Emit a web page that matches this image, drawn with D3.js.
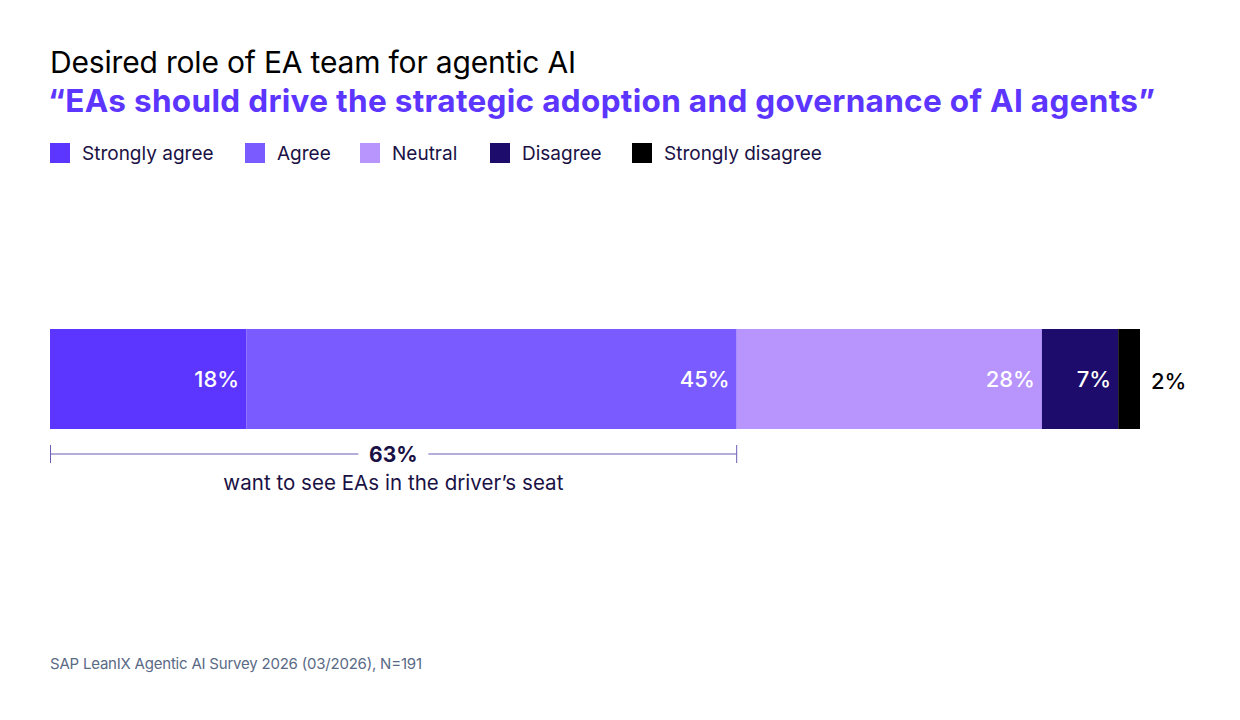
<!DOCTYPE html>
<html><head><meta charset="utf-8">
<script src="https://cdn.jsdelivr.net/npm/d3@7"></script>
<style>body{margin:0;background:#fff;}svg{display:block;font-family:Inter,"Noto Sans",sans-serif;}</style>
</head><body><svg id="c" width="1240" height="720"></svg>
<script>
const categories = ["Strongly agree","Agree","Neutral","Disagree","Strongly disagree"];
const values = [18,45,28,7,2];
const colors = ["#5c35ff","#7a5bff","#b894fd","#1d0c6b","#000000"];
const labelColors = ["#fff","#fff","#fff","#fff","#000"];
const bracketValue = 63;
const bracketText = "want to see EAs in the driver’s seat";

const svg = d3.select("#c");
const navy = "#1a1145";
svg.append("text").attr("x",50).attr("y",73).attr("font-size",30).attr("fill","#000")
  .attr("textLength",526).attr("lengthAdjust","spacing")
  .text("Desired role of EA team for agentic AI");
svg.append("text").attr("x",48).attr("y",112).attr("font-size",31.5).attr("font-weight",700).attr("fill","#5c35ff")
  .attr("textLength",1107).attr("lengthAdjust","spacing")
  .text("“EAs should drive the strategic adoption and governance of AI agents”");

const legX = [50,245,360,490,632];
const lg = svg.append("g");
categories.forEach((c,i)=>{
  lg.append("rect").attr("x",legX[i]).attr("y",143).attr("width",20).attr("height",20).attr("fill",colors[i]);
  lg.append("text").attr("x",legX[i]+32).attr("y",160).attr("font-size",19).attr("fill",navy).text(c);
});

const x = d3.scaleLinear().domain([0,d3.sum(values)]).range([50,1140]);
const starts = d3.cumsum([0,...values]);
const bar = svg.append("g");
values.forEach((v,i)=>{
  bar.append("rect").attr("x",x(starts[i])).attr("y",329).attr("width",x(starts[i]+v)-x(starts[i])).attr("height",100).attr("fill",colors[i]);
  if(i<4){
    bar.append("text").attr("x",x(starts[i]+v)-7).attr("y",387).attr("text-anchor","end").attr("font-size",22).attr("font-weight",500).attr("fill",labelColors[i]).text(v+"%");
  } else {
    bar.append("text").attr("x",x(starts[i]+v)+11).attr("y",389).attr("font-size",22).attr("font-weight",500).attr("fill","#000").text(v+"%");
  }
});

const bx0 = x(0), bx1 = x(values[0]+values[1]), bmid=(bx0+bx1)/2;
const br = svg.append("g").attr("stroke","#6b5cb5").attr("stroke-width",1);
br.append("line").attr("x1",bx0).attr("x2",bmid-35).attr("y1",454).attr("y2",454);
br.append("line").attr("x1",bmid+35).attr("x2",bx1).attr("y1",454).attr("y2",454);
br.append("line").attr("x1",bx0+0.5).attr("x2",bx0+0.5).attr("y1",445).attr("y2",463);
br.append("line").attr("x1",bx1).attr("x2",bx1).attr("y1",445).attr("y2",463);
svg.append("text").attr("x",bmid).attr("y",462).attr("text-anchor","middle").attr("font-size",21).attr("font-weight",700).attr("fill",navy).text(bracketValue+"%");
svg.append("text").attr("x",bmid).attr("y",490).attr("text-anchor","middle").attr("font-size",20.5).attr("fill",navy)
  .attr("textLength",340).attr("lengthAdjust","spacing").text(bracketText);

svg.append("text").attr("x",50).attr("y",669).attr("font-size",15).attr("fill","#5a6a86")
  .attr("textLength",372).attr("lengthAdjust","spacing")
  .text("SAP LeanIX Agentic AI Survey 2026 (03/2026), N=191");
</script></body></html>
